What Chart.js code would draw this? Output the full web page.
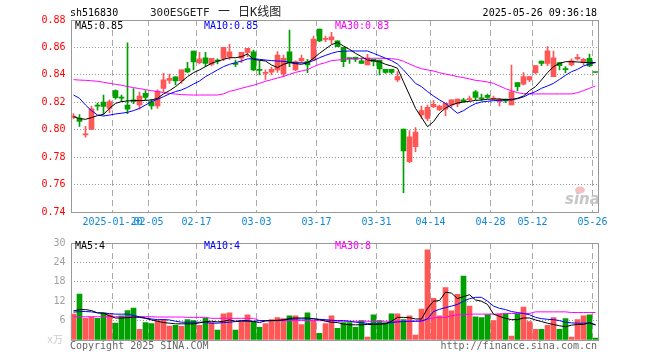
<!DOCTYPE html>
<html>
<head>
<meta charset="utf-8">
<script src="https://cdn.jsdelivr.net/npm/chart.js@4.4.1/dist/chart.umd.min.js"></script>
<style>
  html, body { margin: 0; padding: 0; background: #fff; }
  #wrap { position: relative; width: 660px; height: 360px; overflow: hidden; }
  canvas { position: absolute; left: 0; }
  #kline { top: 0; }
  #vol { top: 232px; }
</style>
</head>
<body>
<div id="wrap">
  <canvas id="kline" width="660" height="232"></canvas>
  <canvas id="vol" width="660" height="128"></canvas>
</div>
<script>
// trading days shown (88)
const dates = [
  '2025-01-09','2025-01-10','2025-01-13','2025-01-14','2025-01-15','2025-01-16','2025-01-17','2025-01-20','2025-01-21','2025-01-22',
  '2025-01-23','2025-01-24','2025-01-27','2025-02-05','2025-02-06','2025-02-07','2025-02-10','2025-02-11','2025-02-12','2025-02-13',
  '2025-02-14','2025-02-17','2025-02-18','2025-02-19','2025-02-20','2025-02-21','2025-02-24','2025-02-25','2025-02-26','2025-02-27',
  '2025-02-28','2025-03-03','2025-03-04','2025-03-05','2025-03-06','2025-03-07','2025-03-10','2025-03-11','2025-03-12','2025-03-13',
  '2025-03-14','2025-03-17','2025-03-18','2025-03-19','2025-03-20','2025-03-21','2025-03-24','2025-03-25','2025-03-26','2025-03-27',
  '2025-03-28','2025-03-31','2025-04-01','2025-04-02','2025-04-03','2025-04-07','2025-04-08','2025-04-09','2025-04-10','2025-04-11',
  '2025-04-14','2025-04-15','2025-04-16','2025-04-17','2025-04-18','2025-04-21','2025-04-22','2025-04-23','2025-04-24','2025-04-25',
  '2025-04-28','2025-04-29','2025-04-30','2025-05-06','2025-05-07','2025-05-08','2025-05-09','2025-05-12','2025-05-13','2025-05-14',
  '2025-05-15','2025-05-16','2025-05-19','2025-05-20','2025-05-21','2025-05-22','2025-05-23','2025-05-26'
];

const tickDates = ['2025-01-20','2025-02-05','2025-02-17','2025-03-03','2025-03-17','2025-03-31','2025-04-14','2025-04-28','2025-05-12','2025-05-26'];
const tickLabels = ['2025-01-20','02-05','02-17','03-03','03-17','03-31','04-14','04-28','05-12','05-26'];

const open = [
  0.8092,0.8085,0.7962,0.8002,0.8177,0.8202,0.8156,0.8285,0.8237,0.8180,
  0.8217,0.8180,0.8265,0.8205,0.8173,0.8302,0.8360,0.8385,0.8358,0.8445,
  0.8574,0.8489,0.8525,0.8477,0.8503,0.8520,0.8533,0.8479,0.8521,0.8564,
  0.8567,0.8436,0.8411,0.8419,0.8436,0.8406,0.8567,0.8436,0.8501,0.8496,
  0.8508,0.8734,0.8659,0.8654,0.8649,0.8601,0.8521,0.8527,0.8503,0.8472,
  0.8513,0.8508,0.8440,0.8440,0.8363,0.8005,0.7767,0.7876,0.8107,0.8083,
  0.8168,0.8144,0.8149,0.8180,0.8188,0.8217,0.8219,0.8277,0.8229,0.8251,
  0.8224,0.8205,0.8224,0.8180,0.8343,0.8333,0.8363,0.8416,0.8501,0.8484,
  0.8387,0.8489,0.8441,0.8472,0.8516,0.8489,0.8520,0.8418
];
const close = [
  0.8100,0.8060,0.7966,0.8153,0.8172,0.8170,0.8205,0.8234,0.8230,0.8149,
  0.8207,0.8246,0.8236,0.8173,0.8282,0.8363,0.8375,0.8356,0.8436,0.8421,
  0.8494,0.8516,0.8484,0.8520,0.8500,0.8601,0.8567,0.8476,0.8564,0.8593,
  0.8436,0.8433,0.8416,0.8440,0.8545,0.8520,0.8489,0.8496,0.8521,0.8472,
  0.8661,0.8647,0.8663,0.8678,0.8605,0.8496,0.8518,0.8513,0.8484,0.8525,
  0.8496,0.8443,0.8418,0.8418,0.8387,0.7845,0.7949,0.7983,0.8139,0.8163,
  0.8185,0.8173,0.8192,0.8217,0.8224,0.8202,0.8224,0.8236,0.8226,0.8236,
  0.8229,0.8217,0.8210,0.8277,0.8314,0.8387,0.8387,0.8467,0.8484,0.8576,
  0.8525,0.8467,0.8438,0.8503,0.8528,0.8513,0.8465,0.8417
];
const high = [
  0.8117,0.8110,0.8024,0.8170,0.8195,0.8253,0.8217,0.8290,0.8253,0.8634,
  0.8300,0.8275,0.8285,0.8222,0.8290,0.8411,0.8406,0.8385,0.8436,0.8491,
  0.8574,0.8564,0.8564,0.8520,0.8516,0.8601,0.8625,0.8508,0.8564,0.8593,
  0.8581,0.8503,0.8436,0.8455,0.8569,0.8545,0.8727,0.8503,0.8545,0.8513,
  0.8683,0.8734,0.8683,0.8710,0.8649,0.8601,0.8521,0.8530,0.8525,0.8550,
  0.8513,0.8508,0.8440,0.8440,0.8423,0.8005,0.7993,0.8015,0.8173,0.8180,
  0.8212,0.8180,0.8192,0.8217,0.8224,0.8229,0.8246,0.8285,0.8260,0.8260,
  0.8246,0.8229,0.8224,0.8472,0.8343,0.8416,0.8387,0.8467,0.8501,0.8606,
  0.8574,0.8489,0.8460,0.8516,0.8550,0.8520,0.8552,0.8418
];
const low = [
  0.8078,0.8024,0.7946,0.8002,0.8142,0.8112,0.8125,0.8222,0.8205,0.8117,
  0.8190,0.8149,0.8217,0.8149,0.8156,0.8278,0.8338,0.8326,0.8338,0.8416,
  0.8436,0.8479,0.8460,0.8465,0.8479,0.8503,0.8513,0.8460,0.8489,0.8533,
  0.8431,0.8399,0.8367,0.8399,0.8418,0.8387,0.8460,0.8431,0.8489,0.8416,
  0.8508,0.8642,0.8642,0.8625,0.8605,0.8460,0.8484,0.8496,0.8484,0.8472,
  0.8465,0.8399,0.8411,0.8406,0.8350,0.7541,0.7760,0.7840,0.8083,0.8066,
  0.8161,0.8139,0.8103,0.8163,0.8168,0.8202,0.8205,0.8217,0.8212,0.8229,
  0.8217,0.8173,0.8197,0.8180,0.8282,0.8326,0.8350,0.8406,0.8467,0.8467,
  0.8387,0.8436,0.8416,0.8465,0.8508,0.8472,0.8460,0.8417
];

const ma5 = [
  0.8095,0.8081,0.8076,0.8088,0.8103,0.8112,0.8156,0.8192,0.8205,0.8210,
  0.8212,0.8212,0.8214,0.8217,0.8229,0.8261,0.8285,0.8314,0.8350,0.8387,
  0.8416,0.8436,0.8460,0.8484,0.8499,0.8513,0.8525,0.8525,0.8533,0.8552,
  0.8513,0.8506,0.8501,0.8472,0.8453,0.8477,0.8489,0.8482,0.8477,0.8489,
  0.8521,0.8557,0.8589,0.8620,0.8637,0.8610,0.8586,0.8557,0.8533,0.8508,
  0.8504,0.8496,0.8477,0.8465,0.8448,0.8350,0.8253,0.8156,0.8090,0.8022,
  0.8059,0.8120,0.8158,0.8180,0.8195,0.8202,0.8207,0.8214,0.8217,0.8222,
  0.8224,0.8224,0.8219,0.8217,0.8229,0.8246,0.8285,0.8314,0.8363,0.8416,
  0.8460,0.8484,0.8496,0.8496,0.8494,0.8491,0.8489,0.8491
];
const ma10 = [
  0.8253,0.8229,0.8180,0.8139,0.8107,0.8100,0.8107,0.8115,0.8120,0.8127,
  0.8139,0.8156,0.8180,0.8205,0.8222,0.8241,0.8261,0.8278,0.8290,0.8309,
  0.8333,0.8355,0.8387,0.8411,0.8436,0.8460,0.8477,0.8489,0.8501,0.8516,
  0.8518,0.8513,0.8508,0.8504,0.8501,0.8499,0.8491,0.8489,0.8487,0.8489,
  0.8504,0.8525,0.8542,0.8557,0.8569,0.8572,0.8574,0.8574,0.8574,0.8574,
  0.8557,0.8540,0.8521,0.8504,0.8479,0.8436,0.8387,0.8338,0.8314,0.8278,
  0.8246,0.8217,0.8192,0.8156,0.8120,0.8139,0.8168,0.8190,0.8202,0.8207,
  0.8212,0.8214,0.8217,0.8222,0.8226,0.8239,0.8261,0.8278,0.8302,0.8319,
  0.8338,0.8367,0.8397,0.8423,0.8440,0.8465,0.8479,0.8489
];
const ma30 = [
  0.8365,0.8362,0.8360,0.8357,0.8353,0.8346,0.8338,0.8331,0.8324,0.8315,
  0.8307,0.8300,0.8292,0.8285,0.8278,0.8271,0.8265,0.8260,0.8256,0.8254,
  0.8253,0.8253,0.8253,0.8253,0.8253,0.8261,0.8280,0.8290,0.8302,0.8314,
  0.8324,0.8338,0.8353,0.8365,0.8377,0.8389,0.8404,0.8418,0.8428,0.8438,
  0.8460,0.8477,0.8489,0.8504,0.8508,0.8513,0.8515,0.8517,0.8519,0.8520,
  0.8521,0.8521,0.8520,0.8518,0.8513,0.8499,0.8479,0.8460,0.8445,0.8436,
  0.8428,0.8416,0.8406,0.8397,0.8387,0.8380,0.8370,0.8360,0.8355,0.8348,
  0.8338,0.8319,0.8299,0.8285,0.8270,0.8263,0.8261,0.8261,0.8261,0.8261,
  0.8261,0.8261,0.8261,0.8261,0.8270,0.8285,0.8302,0.8319
];

// volume, in 万 lots
const volume = [
  8.0,14.2,6.7,7.1,6.7,8.4,7.9,5.2,7.5,9.1,
  9.9,3.3,5.4,5.1,6.0,6.4,4.3,4.5,4.2,6.3,
  6.0,4.5,6.7,5.4,3.1,8.1,8.4,3.1,5.7,7.8,
  5.7,3.9,5.1,6.3,6.9,6.6,7.5,7.5,4.8,8.4,
  6.0,2.1,5.1,7.5,3.6,5.4,5.4,3.9,6.0,0.9,
  7.8,6.0,5.4,8.1,8.1,6.3,7.5,1.5,9.6,27.9,
  12.9,7.5,16.2,9.0,14.1,19.8,10.5,7.2,6.9,7.9,
  6.0,8.1,8.1,1.2,8.1,10.2,5.7,3.3,3.3,4.5,
  6.9,3.3,6.6,0.9,6.3,7.5,7.8,0.6
];
const volMa5 = [
  9.0,9.4,9.4,9.1,8.4,8.3,7.5,6.8,6.8,6.9,
  7.1,7.0,6.7,6.2,5.8,5.4,5.2,5.0,5.0,5.0,
  5.0,5.3,5.7,5.8,5.6,5.8,6.2,5.8,6.0,6.0,
  5.7,5.4,5.9,6.0,6.1,6.2,6.7,6.8,6.8,6.8,
  6.6,6.3,5.8,5.5,5.4,4.9,4.7,4.7,4.7,4.8,
  4.8,4.9,5.0,5.8,7.0,7.0,6.9,6.5,6.5,9.8,
  12.0,12.2,14.8,14.5,12.8,13.4,14.0,12.4,12.0,11.0,
  8.0,7.3,6.7,6.3,6.3,6.8,6.8,6.2,5.7,5.2,
  4.8,4.4,4.1,4.6,4.8,4.8,5.4,4.6
];
const volMa10 = [
  8.6,8.8,8.8,8.7,8.4,8.3,8.2,8.0,8.0,8.0,
  7.6,7.2,6.8,6.5,6.3,6.3,6.2,5.8,5.5,5.5,
  5.5,5.5,5.4,5.2,5.2,5.4,5.5,5.7,5.8,5.8,
  5.8,6.0,6.0,6.0,6.0,6.2,6.4,6.5,6.5,6.5,
  6.5,6.4,6.3,6.1,6.0,6.0,5.8,5.5,5.4,5.1,
  5.0,5.0,5.1,5.4,5.6,5.7,5.8,5.8,5.9,6.5,
  8.8,9.5,10.0,10.5,11.0,12.0,12.8,13.2,13.2,12.0,
  10.5,9.8,9.4,8.8,8.5,8.2,7.8,7.0,6.6,6.4,
  6.3,6.0,5.5,5.3,5.2,5.2,5.2,4.8
];
const volMa30 = [
  7.2,7.2,7.2,7.2,7.2,7.2,7.2,7.2,7.2,7.2,
  7.2,7.2,7.2,7.2,7.1,7.1,7.1,7.1,7.1,7.0,
  7.0,7.0,7.0,6.7,6.7,6.7,6.7,6.7,6.7,6.7,
  6.7,6.0,6.0,6.0,6.0,6.0,6.0,6.0,6.0,6.0,
  6.0,6.0,6.0,6.0,5.8,5.8,5.8,5.8,5.8,5.8,
  5.8,5.8,5.8,5.8,5.8,5.8,5.8,5.8,5.8,6.4,
  6.8,7.0,7.0,7.5,7.8,7.8,8.0,8.0,8.0,8.0,
  8.0,8.0,8.2,8.2,8.2,8.2,8.2,8.7,8.7,8.7,
  8.7,8.7,8.7,8.5,8.5,8.5,8.5,8.5
];

const UP = '#ff5656';
const DOWN = '#00a000';
const FONT = '"DejaVu Sans Mono", "Liberation Mono", monospace';
const CJK = '"DejaVu Sans Mono", "Noto Sans CJK SC", monospace';

const candleColors = close.map((c, i) => c >= open[i] ? UP : DOWN);
const tickIdx = tickDates.map(d => dates.indexOf(d));

Chart.defaults.font.family = FONT;
Chart.defaults.font.size = 10;
Chart.defaults.animation = false;

function xScale(showLabels) {
  return {
    type: 'category',
    offset: true,
    grid: {
      offset: true,
      drawTicks: false,
      lineWidth: 1,
      color: ctx => tickIdx.includes(ctx.index) ? '#aaaaaa' : 'rgba(0,0,0,0)'
    },
    border: { display: false, dash: [6, 4] },
    ticks: {
      display: showLabels,
      autoSkip: false,
      maxRotation: 0,
      minRotation: 0,
      padding: 4,
      labelOffset: -3,
      color: '#0e88d8',
      font: { family: FONT, size: 10 },
      callback: (v, i) => {
        const k = tickIdx.indexOf(i);
        return k < 0 ? '' : tickLabels[k];
      }
    },
    afterFit: s => { s.height = 20; }
  };
}

function lineSet(data, color) {
  return {
    type: 'line', data: data, borderColor: color, borderWidth: 1,
    pointRadius: 0, fill: false, tension: 0, order: 0
  };
}

// texts + frame, drawn on top of each panel
function panelText(items) {
  return {
    id: 'panelText',
    afterDraw(chart) {
      const ctx = chart.ctx;
      const a = chart.chartArea;
      ctx.save();
      ctx.strokeStyle = '#999999';
      ctx.lineWidth = 1;
      ctx.strokeRect(Math.round(a.left) + 0.5, Math.round(a.top) + 0.5,
        Math.round(a.right - a.left) - 1, Math.round(a.bottom - a.top));
      ctx.textBaseline = 'middle';
      items.forEach(t => {
        ctx.font = t.font || ('10px ' + FONT);
        ctx.fillStyle = t.color || '#000';
        ctx.textAlign = t.align || 'left';
        ctx.fillText(t.text, t.x, t.y);
      });
      ctx.restore();
    }
  };
}

const sinaLogo = {
  id: 'sinaLogo',
  afterDraw(chart) {
    const ctx = chart.ctx;
    ctx.save();
    ctx.fillStyle = 'rgba(240,150,150,0.6)';
    ctx.beginPath();
    ctx.ellipse(580, 190, 5, 3.5, 0, 0, Math.PI * 2);
    ctx.fill();
    ctx.font = 'italic bold 15px "DejaVu Sans", sans-serif';
    ctx.fillStyle = '#c6c6c6';
    ctx.textBaseline = 'alphabetic';
    ctx.fillText('sina', 565, 204);
    ctx.restore();
  }
};

new Chart(document.getElementById('kline'), {
  type: 'bar',
  data: {
    labels: dates,
    datasets: [
      lineSet(ma5, '#000000'),
      lineSet(ma10, '#0000ff'),
      lineSet(ma30, '#ff00ff'),
      {
        data: open.map((o, i) => [o, close[i]]),
        backgroundColor: candleColors,
        barThickness: 5, minBarLength: 1, grouped: false, borderWidth: 0, order: 2
      },
      {
        data: low.map((l, i) => [l, high[i]]),
        backgroundColor: candleColors,
        barThickness: 1, grouped: false, borderWidth: 0, order: 3
      }
    ]
  },
  options: {
    responsive: false,
    devicePixelRatio: 1,
    layout: { padding: { top: 20, right: 61.5, left: 0, bottom: 0 } },
    plugins: { legend: { display: false }, tooltip: { enabled: false } },
    scales: {
      x: xScale(true),
      y: {
        min: 0.74, max: 0.88,
        ticks: { stepSize: 0.02, color: '#ff0000', padding: 5, callback: v => v.toFixed(2) },
        grid: {
          drawTicks: false,
          color: ctx => (ctx.tick && ctx.tick.value > 0.745 && ctx.tick.value < 0.875) ? '#999999' : 'rgba(0,0,0,0)'
        },
        border: { display: false, dash: [1, 2] },
        afterFit: s => { s.width = 70.5; }
      }
    }
  },
  plugins: [sinaLogo, panelText([
    { text: 'sh516830', x: 70, y: 13 },
    { text: '300ESGETF', x: 150, y: 13, font: '11px ' + FONT, color: '#222' },
    { text: '一', x: 218, y: 13, font: '12px ' + CJK, color: '#222' },
    { text: '日K线图', x: 238, y: 13, font: '12px ' + CJK, color: '#222' },
    { text: '2025-05-26 09:36:18', x: 597, y: 13, align: 'right' },
    { text: 'MA5:0.85', x: 75, y: 26 },
    { text: 'MA10:0.85', x: 204, y: 26, color: '#0000ff' },
    { text: 'MA30:0.83', x: 335, y: 26, color: '#ff00ff' }
  ])]
});

new Chart(document.getElementById('vol'), {
  type: 'bar',
  data: {
    labels: dates,
    datasets: [
      lineSet(volMa5, '#000000'),
      lineSet(volMa10, '#0000ff'),
      lineSet(volMa30, '#ff00ff'),
      {
        data: volume,
        backgroundColor: candleColors,
        barThickness: 5, grouped: false, borderWidth: 0, order: 2
      }
    ]
  },
  options: {
    responsive: false,
    devicePixelRatio: 1,
    layout: { padding: { top: 8, right: 61.5, left: 0, bottom: 0 } },
    plugins: { legend: { display: false }, tooltip: { enabled: false } },
    scales: {
      x: xScale(false),
      y: {
        min: 0, max: 30,
        ticks: { stepSize: 6, color: '#a0a0a0', padding: 5, callback: v => v === 0 ? '' : v },
        grid: {
          drawTicks: false,
          color: ctx => (ctx.tick && ctx.tick.value > 0 && ctx.tick.value < 30) ? '#999999' : 'rgba(0,0,0,0)'
        },
        border: { display: false, dash: [1, 2] },
        afterFit: s => { s.width = 70.5; }
      }
    }
  },
  plugins: [panelText([
    { text: 'MA5:4', x: 75, y: 14 },
    { text: 'MA10:4', x: 204, y: 14, color: '#0000ff' },
    { text: 'MA30:8', x: 335, y: 14, color: '#ff00ff' },
    { text: 'x万', x: 63, y: 108, align: 'right', color: '#cccccc', font: '10px ' + CJK },
    { text: 'Copyright 2025 SINA.COM', x: 70, y: 114, color: '#666666' },
    { text: 'http://finance.sina.com.cn', x: 597, y: 114, align: 'right', color: '#666666' }
  ])]
});
</script>
</body>
</html>
